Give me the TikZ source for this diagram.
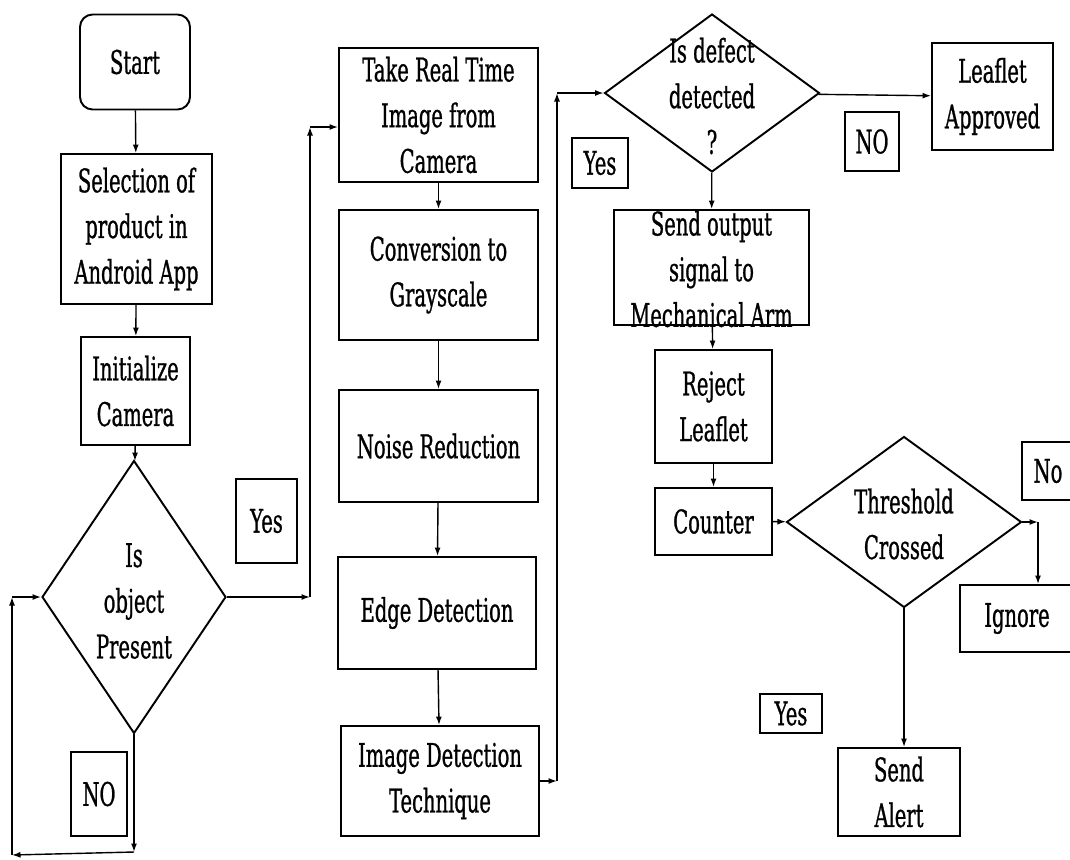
\documentclass[tikz,border=0pt]{standalone}
\usepackage{fontspec}
\setmainfont{DejaVu Serif}[FakeStretch=0.6, FakeBold=0.8]
\usetikzlibrary{positioning,shapes.geometric,arrows.meta}

\begin{document}
\begin{tikzpicture}[->, >={Latex[length=1.7mm,width=1.2mm]}, x=0.02cm, y=-0.02cm, thick, font=\fontsize{18.5pt}{26pt}\selectfont, state/.style={draw, black, rectangle, line width=1.1pt, align=center, inner sep=1pt}, startbox/.style={state, rounded corners=0.25cm}, decision/.style={draw, black, diamond, line width=1.1pt, inner sep=0pt}, answer/.style={draw, black, line width=1.1pt, inner sep=1pt}, txt/.style={align=center, inner sep=0pt}]
	\useasboundingbox[-] (0,0) rectangle (1070,859);
	\clip[-] (0,0) rectangle (1070,859);

	% first column
	\node[startbox, minimum width=2.2cm, minimum height=1.9cm] (S) at (135,62) {Start};
	\node[state, minimum width=3.02cm, minimum height=3cm] (P) at (136.5,229) {Selection of\\product in\\Android App};
	\node[state, minimum width=2.18cm, minimum height=2.16cm] (C) at (135.5,391) {Initialize\\Camera};
	\node[decision, minimum width=3.68cm, minimum height=5.46cm] (O) at (134,597) {};
	\node[txt] (Ot) at (134,601) {Is\\object\\Present};
	\node[answer, minimum width=1.22cm, minimum height=1.68cm] (Y1) at (266.5,521) {Yes};
	\node[answer, minimum width=1.12cm, minimum height=1.68cm] (N1) at (99,794) {NO};

	% image processing
	\node[state, minimum width=3.98cm, minimum height=2.68cm] (T) at (438.5,115) {Take Real Time\\Image from\\Camera};
	\node[state, minimum width=3.98cm, minimum height=2.6cm] (G) at (438.5,275) {Conversion to\\Grayscale};
	\node[state, minimum width=3.98cm, minimum height=2.24cm] (N) at (438.5,446) {Noise Reduction};
	\node[state, minimum width=3.96cm, minimum height=2.24cm] (E) at (437,613) {Edge Detection};
	\node[state, minimum width=3.96cm, minimum height=2.2cm] (D) at (440,781) {Image Detection\\Technique};

	% defect check
	\node[decision, minimum width=4.3cm, minimum height=3.16cm] (Q) at (712,93) {};
	\node[txt] (Qt) at (712,96) {Is defect\\detected\\?};
	\node[state, minimum width=2.42cm, minimum height=2.14cm] (L) at (992.5,96.5) {Leaflet\\Approved};
	\node[answer, minimum width=1.12cm, minimum height=1cm] (Y2) at (600,163) {Yes};
	\node[answer, minimum width=1.08cm, minimum height=1.18cm] (N2) at (872,141.5) {NO};
	\node[state, minimum width=3.9cm, minimum height=2.3cm] (M) at (711.5,267.5) {};
	\node[txt] (Mt) at (711.5,269) {Send output\\signal to\\Mechanical Arm};
	\node[state, minimum width=2.34cm, minimum height=2.26cm] (R) at (713.5,406.5) {Reject\\Leaflet};
	\node[state, minimum width=2.34cm, minimum height=1.34cm] (K) at (713.5,521.5) {Counter};

	% threshold
	\node[decision, minimum width=4.7cm, minimum height=3.42cm] (H) at (904,522) {};
	\node[txt] (Ht) at (904,524) {Threshold\\Crossed};
	\node[answer, minimum width=1.04cm, minimum height=1.16cm] (N3) at (1048,471) {No};
	\node[state, minimum width=2.28cm, minimum height=1.34cm] (X) at (1017,618.5) {Ignore};
	\node[answer, minimum width=1.24cm, minimum height=0.78cm] (Y3) at (791,713.5) {Yes};
	\node[state, minimum width=2.44cm, minimum height=1.76cm] (A) at (899,792) {Send\\Alert};

	\coordinate (n1) at (134,852);
	\coordinate (n2) at (12,855);
	\coordinate (n3) at (12,597);
	\coordinate (y1) at (310,597);
	\coordinate (y2) at (310,127);
	\coordinate (d1) at (557,781);
	\coordinate (d2) at (557,93);
	\coordinate (h1) at (1038,522);

	\path (S) edge[] node[]{} (P);
	\path (P) edge[] node[]{} (C);
	\path (C) edge[] node[]{} (O);
	\path (T) edge[] node[]{} (G);
	\path (G) edge[] node[]{} (N);
	\path (N) edge[] node[]{} (E);
	\path (E) edge[] node[]{} (D);
	\path (Q) edge[] node[]{} (M);
	\path (Q) edge[] node[]{} (L);
	\path (M) edge[] node[]{} (R);
	\path (R) edge[] node[]{} (K);
	\path (K) edge[] node[]{} (H);

	\draw (O.south) -- (n1);
	\draw (n1) -- (n2);
	\draw (n2) -- (n3);
	\draw (n3) -- (O.west);

	\draw (O.east) -- (y1);
	\draw (y1) -- (y2);
	\draw (y2) -- (y2 -| T.west);

	\draw (D.east) -- (d1);
	\draw (d1) -- (d2);
	\draw (d2) -- (Q.west);

	\draw (H.east) -- (h1);
	\draw (h1) -- (h1 |- X.north);
	\draw (H.south) -- (H.south |- A.north);

\end{tikzpicture}
\end{document}
